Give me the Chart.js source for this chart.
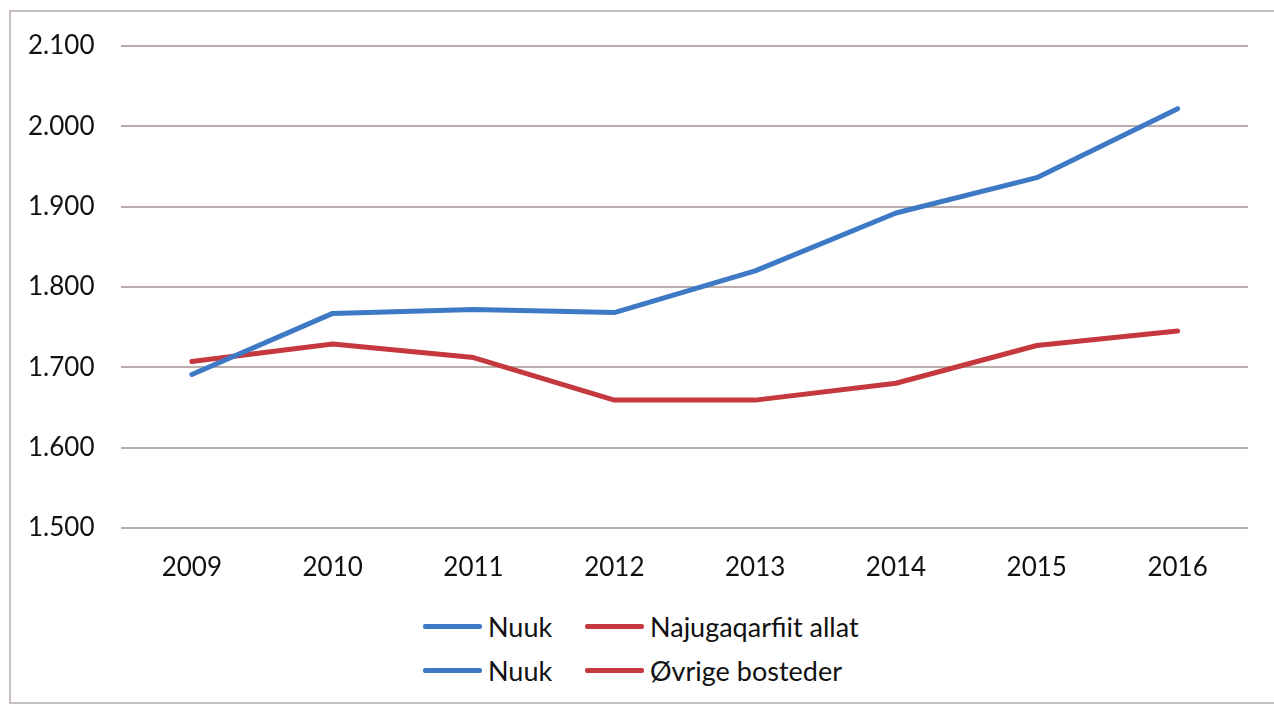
<!DOCTYPE html>
<html>
<head>
<meta charset="utf-8">
<script src="https://cdn.jsdelivr.net/npm/chart.js@4.4.0/dist/chart.umd.min.js"></script>
<style>
  html, body { margin: 0; padding: 0; background: #fff; width: 1274px; height: 706px; overflow: hidden; }
  #frame { position: absolute; left: 9px; top: 10px; width: 1340px; height: 694px; border: 2px solid #c9c1bd; box-sizing: border-box; pointer-events: none; }
  #wrap { position: absolute; left: 0; top: 0; width: 1274px; height: 607px; }
  #legend { position: absolute; left: 0; top: 610px; width: 1274px; font-family: Lato, "Open Sans", sans-serif; font-size: 27px; color: #111; }
  .item { position: absolute; display: flex; align-items: center; height: 32px; }
  .swatch { width: 59px; height: 5px; margin-right: 6px; border-radius: 2px; }
</style>
</head>
<body>
<div id="wrap"><canvas id="c"></canvas></div>
<div id="legend"></div>
<div id="frame"></div>
<script>
const categories = ["2009", "2010", "2011", "2012", "2013", "2014", "2015", "2016"];
const nuuk = [1691, 1767, 1772, 1768, 1820, 1892, 1936, 2022];
const others = [1707, 1729, 1712, 1659, 1659, 1680, 1727, 1745];
const seriesColors = ["#3d79c5", "#c5393e"];
const legendLabels = [["Nuuk", "Najugaqarfiit allat"], ["Nuuk", "Øvrige bosteder"]];
const yMin = 1500, yMax = 2100, yStep = 100;

function fmt(v) {
  const th = Math.floor(v / 1000);
  const rest = String(v % 1000).padStart(3, "0");
  return th + "." + rest;
}

const chart = new Chart(document.getElementById("c"), {
  type: "line",
  data: {
    labels: categories,
    datasets: [
      { label: "Nuuk", data: nuuk, borderColor: seriesColors[0], backgroundColor: seriesColors[0], borderWidth: 5, pointRadius: 0, tension: 0, borderCapStyle: "round", borderJoinStyle: "round" },
      { label: "Øvrige bosteder", data: others, borderColor: seriesColors[1], backgroundColor: seriesColors[1], borderWidth: 5, pointRadius: 0, tension: 0, borderCapStyle: "round", borderJoinStyle: "round" }
    ]
  },
  options: {
    responsive: true,
    maintainAspectRatio: false,
    animation: false,
    layout: { padding: { left: 1, right: 26, top: 46, bottom: 8 } },
    plugins: { legend: { display: false }, tooltip: { enabled: false } },
    scales: {
      x: {
        offset: true,
        grid: { display: false },
        border: { display: false },
        ticks: { color: "#111", font: { family: "Lato, 'Open Sans', sans-serif", size: 26 }, padding: 16 }
      },
      y: {
        min: yMin, max: yMax,
        grid: { color: "#b9aeaa", lineWidth: 2, drawTicks: false },
        border: { display: false },
        ticks: { stepSize: yStep, color: "#111", font: { family: "Lato, 'Open Sans', sans-serif", size: 26 }, padding: 27, callback: (v) => fmt(v) }
      }
    }
  }
});

// HTML legend (two rows, two entries each)
const legend = document.getElementById("legend");
const colLeft = [423, 585];
legendLabels.forEach((row, r) => {
  row.forEach((txt, c) => {
    const it = document.createElement("div");
    it.className = "item";
    it.style.left = colLeft[c] + "px";
    it.style.top = (r * 44) + "px";
    const sw = document.createElement("span");
    sw.className = "swatch";
    sw.style.background = seriesColors[c];
    const t = document.createElement("span");
    t.textContent = txt;
    it.appendChild(sw); it.appendChild(t);
    legend.appendChild(it);
  });
});
</script>
</body>
</html>
